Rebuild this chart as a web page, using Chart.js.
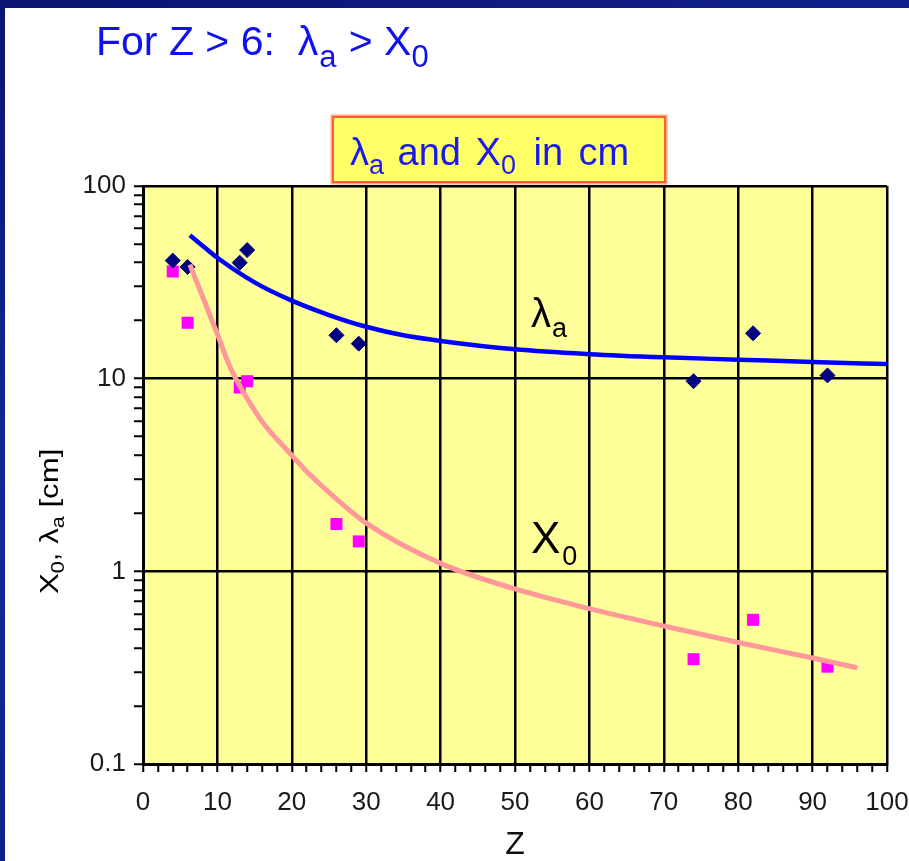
<!DOCTYPE html>
<html>
<head>
<meta charset="utf-8">
<title>Absorption length and radiation length</title>
<script src="https://cdn.jsdelivr.net/npm/chart.js@4/dist/chart.umd.min.js"></script>
<style>
  html, body { margin: 0; padding: 0; }
  body {
    width: 909px; height: 861px; overflow: hidden; position: relative;
    background: linear-gradient(160deg, #0a1570 0%, #15279c 45%, #0b1874 100%);
  }
  #sheet { position: absolute; left: 5px; top: 8px; right: 0; bottom: 0; background: #ffffff; }
  #wrap { position: absolute; left: 0; top: 0; width: 909px; height: 861px; }
</style>
</head>
<body>
<div id="sheet"></div>
<div id="wrap"><canvas id="c" width="909" height="861"></canvas></div>
<script>
// Elements: atomic number Z (Be, C, Al, Si, Fe, Cu, W, Pb, U)
const elementZ = [4, 6, 13, 14, 26, 29, 74, 82, 92];
// Nuclear absorption length lambda_a in cm
const lambdaA = [41, 38, 40, 46.5, 16.8, 15.2, 9.7, 17.2, 10.4];
// Radiation length X0 in cm
const radLength = [36, 19.5, 9.0, 9.7, 1.76, 1.43, 0.35, 0.56, 0.32];

// Smooth trend curves
const lambdaFitZ = [6.3, 8, 10, 15, 20, 25, 30, 35, 40, 50, 60, 70, 80, 90, 100];
const lambdaFit  = [55.5, 49, 42.4, 31.6, 25.4, 21.4, 18.6, 16.8, 15.7, 14.2, 13.4, 12.9, 12.55, 12.2, 11.9];
const x0FitZ = [6.3, 10, 11.7, 13.5, 16, 20, 22, 25, 30, 40, 50, 60, 70, 80, 90, 96];
const x0Fit  = [39.1, 17.0, 11.5, 8.5, 6.0, 4.0, 3.3, 2.57, 1.78, 1.10, 0.81, 0.64, 0.52, 0.427, 0.355, 0.316];

// Axis ticks
const xTickLabels = [0, 10, 20, 30, 40, 50, 60, 70, 80, 90, 100];
const xMinorStep = 2;
const yMajorTicks = [0.1, 1, 10, 100];
const yTickLabels = ['0.1', '1', '10', '100'];

const FONT = '"Liberation Sans", Arial, Helvetica, sans-serif';

const toXY = (xs, ys) => xs.map((x, i) => ({ x: x, y: ys[i] }));

const xTickValues = [];
for (let v = xTickLabels[0]; v <= xTickLabels[xTickLabels.length - 1]; v += xMinorStep) xTickValues.push(v);

const yTickValues = [];
for (let d = 0; d < yMajorTicks.length - 1; d++) {
  yTickValues.push(yMajorTicks[d]);
  for (let m = 2; m <= 9; m++) yTickValues.push(m * yMajorTicks[d]);
}
yTickValues.push(yMajorTicks[yMajorTicks.length - 1]);

// Draws a run of text pieces (normal + subscripts) in one go
function drawRuns(ctx, runs, x, baseline, o) {
  ctx.save();
  ctx.translate(x, baseline);
  if (o.rotate) ctx.rotate(o.rotate);
  ctx.scale(o.scaleX || 1, 1);
  ctx.fillStyle = o.color;
  ctx.textBaseline = 'alphabetic';
  ctx.textAlign = 'left';
  let cx = 0;
  for (const r of runs) {
    ctx.font = (r.weight || 'normal') + ' ' + r.size + 'px ' + FONT;
    const px = (r.at !== undefined) ? r.at : cx + (r.gap || 0);
    ctx.fillText(r.text, px, r.dy || 0);
    cx = px + ctx.measureText(r.text).width;
  }
  ctx.restore();
}

const plotBackground = {
  id: 'plotBackground',
  beforeDraw(chart) {
    const { ctx, chartArea: a } = chart;
    ctx.save();
    ctx.fillStyle = '#ffff99';
    ctx.fillRect(a.left, a.top, a.right - a.left, a.bottom - a.top);
    ctx.restore();
  }
};

const annotations = {
  id: 'annotations',
  afterDraw(chart) {
    const ctx = chart.ctx;
    // Headline
    drawRuns(ctx, [
      { text: 'For Z > 6:  \u03bb', size: 41 },
      { text: 'a', size: 31, dy: 12, gap: 1 },
      { text: ' > X', size: 41, gap: 1 },
      { text: '0', size: 31, dy: 12 }
    ], 96, 55, { color: '#1010f0' });

    // Boxed chart title
    ctx.save();
    ctx.fillStyle = '#ffff66';
    ctx.fillRect(333, 117, 332, 65);
    ctx.strokeStyle = '#ffb070';
    ctx.lineWidth = 3;
    ctx.strokeRect(332, 116, 334, 67);
    ctx.strokeStyle = '#ff3b3b';
    ctx.lineWidth = 1.5;
    ctx.strokeRect(333, 117, 332, 65);
    ctx.restore();
    drawRuns(ctx, [
      { text: '\u03bb', size: 38 },
      { text: 'a', size: 27, dy: 9, gap: 0 },
      { text: ' and', size: 38, gap: 3 },
      { text: ' X', size: 38, gap: 4 },
      { text: '0', size: 27, dy: 9 },
      { text: ' in', size: 38, gap: 7 },
      { text: ' cm', size: 38, gap: 5 }
    ], 350, 165, { color: '#1a1aee' });

    // Curve labels
    drawRuns(ctx, [
      { text: '\u03bb', size: 40 },
      { text: 'a', size: 27, dy: 10, gap: 1 }
    ], 531, 327, { color: '#000000' });
    drawRuns(ctx, [
      { text: 'X', size: 44 },
      { text: '0', size: 27, dy: 12, gap: 2 }
    ], 531, 553, { color: '#000000' });

    // Y axis title
    drawRuns(ctx, [
      { text: 'X', size: 26 },
      { text: '0', size: 18, dy: 6 },
      { text: ', \u03bb', size: 26 },
      { text: 'a', size: 18, dy: 6 },
      { text: ' [cm]', size: 26 }
    ], 58, 594, { color: '#000000', rotate: -Math.PI / 2, scaleX: 1.2 });
  }
};

new Chart(document.getElementById('c'), {
  type: 'scatter',
  data: {
    datasets: [
      {
        label: 'lambda_a trend',
        data: toXY(lambdaFitZ, lambdaFit),
        showLine: true,
        borderColor: '#0000ff',
        borderWidth: 4.5,
        pointRadius: 0,
        cubicInterpolationMode: 'monotone'
      },
      {
        label: 'X0 trend',
        data: toXY(x0FitZ, x0Fit),
        showLine: true,
        borderColor: '#ff9999',
        borderWidth: 5,
        pointRadius: 0,
        cubicInterpolationMode: 'monotone'
      },
      {
        label: 'lambda_a',
        data: toXY(elementZ, lambdaA),
        pointStyle: 'rectRot',
        pointRadius: 7.5,
        backgroundColor: '#000080',
        borderColor: '#000080',
        borderWidth: 1
      },
      {
        label: 'X0',
        data: toXY(elementZ, radLength),
        pointStyle: 'rect',
        pointRadius: 8.5,
        backgroundColor: '#ff00ff',
        borderColor: '#ff00ff',
        borderWidth: 0
      }
    ]
  },
  options: {
    responsive: false,
    animation: false,
    devicePixelRatio: 1,
    layout: { padding: { left: 0, right: 22, top: 186, bottom: 0 } },
    plugins: { legend: { display: false }, tooltip: { enabled: false }, title: { display: false } },
    scales: {
      x: {
        type: 'linear',
        min: xTickLabels[0],
        max: xTickLabels[xTickLabels.length - 1],
        afterBuildTicks: s => { s.ticks = xTickValues.map(v => ({ value: v })); },
        afterFit: s => { s.height = 97; s.paddingLeft = 0; s.paddingRight = 0; },
        ticks: {
          autoSkip: false, maxRotation: 0, minRotation: 0, padding: 15,
          color: '#1a1a1a', font: { family: FONT, size: 26 },
          callback: v => (xTickLabels.includes(v) ? String(v) : '')
        },
        grid: {
          color: c => (c.tick && xTickLabels.includes(c.tick.value) ? '#000000' : 'rgba(0,0,0,0)'),
          lineWidth: 2.5, tickColor: '#000000', tickLength: 8, tickWidth: 2
        },
        border: { color: '#000000', width: 3 },
        title: { display: true, text: 'Z', color: '#111111', padding: 0, font: { family: FONT, size: 32, lineHeight: 1 } }
      },
      y: {
        type: 'logarithmic',
        min: yMajorTicks[0],
        max: yMajorTicks[yMajorTicks.length - 1],
        afterBuildTicks: s => { s.ticks = yTickValues.map(v => ({ value: v })); },
        afterFit: s => { s.width = 143; s.paddingTop = 0; s.paddingBottom = 0; },
        ticks: {
          autoSkip: false, padding: 8,
          color: '#1a1a1a', font: { family: FONT, size: 26 },
          callback: v => { const i = yMajorTicks.indexOf(v); return i >= 0 ? yTickLabels[i] : ''; }
        },
        grid: {
          color: c => (c.tick && yMajorTicks.includes(c.tick.value) ? '#000000' : 'rgba(0,0,0,0)'),
          lineWidth: 2.5, tickColor: '#000000', tickLength: 9, tickWidth: 2
        },
        border: { color: '#000000', width: 3 }
      }
    }
  },
  plugins: [plotBackground, annotations]
});
</script>
</body>
</html>
